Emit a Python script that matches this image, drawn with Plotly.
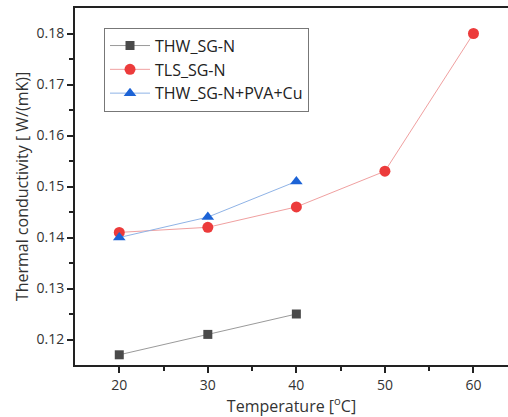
import plotly.graph_objects as go

temps_thw = [20, 30, 40]
thw_sgn = [0.117, 0.121, 0.125]
temps_tls = [20, 30, 40, 50, 60]
tls_sgn = [0.141, 0.142, 0.146, 0.153, 0.180]
temps_pva = [20, 30, 40]
thw_pva_cu = [0.140, 0.144, 0.151]

fig = go.Figure()
fig.add_trace(go.Scatter(x=temps_thw, y=thw_sgn, name="THW_SG-N", mode="lines+markers",
                         line=dict(color="#9a9a9a", width=1),
                         marker=dict(symbol="square", size=9, color="#4a4a4a")))
fig.add_trace(go.Scatter(x=temps_tls, y=tls_sgn, name="TLS_SG-N", mode="lines+markers",
                         line=dict(color="#f0a0a0", width=1),
                         marker=dict(symbol="circle", size=11, color="#ec3b3b")))
fig.add_trace(go.Scatter(x=temps_pva, y=thw_pva_cu, name="THW_SG-N+PVA+Cu", mode="lines+markers",
                         line=dict(color="#8fb3e6", width=1),
                         marker=dict(symbol="triangle-up", size=11, color="#1c63d6")))

font_family = "Open Sans, Segoe UI, sans-serif"
fig.update_layout(
    width=508, height=417,
    margin=dict(l=75, r=0, t=8, b=52),
    paper_bgcolor="white", plot_bgcolor="white",
    font=dict(family=font_family, color="#333", size=13),
    showlegend=True,
    legend=dict(x=0.067, y=0.945, xanchor="left", yanchor="top",
                bordercolor="#777", borderwidth=1, bgcolor="white",
                font=dict(size=16, color="#222"), tracegroupgap=0,
                itemwidth=40),
    xaxis=dict(range=[15, 63.9], tickvals=[20, 30, 40, 50, 60],
               ticks="outside", ticklen=6, tickwidth=1.5, tickcolor="#222",
               minor=dict(tickvals=[25, 35, 45, 55], ticks="outside", ticklen=4, tickwidth=1.5, tickcolor="#222"),
               showline=True, linecolor="#222", linewidth=2, mirror=True,
               showgrid=False, zeroline=False,
               tickfont=dict(size=14, color="#333"),
               title=dict(text="Temperature [<sup>o</sup>C]", font=dict(size=16, color="#333"), standoff=10)),
    yaxis=dict(range=[0.115, 0.185], tickvals=[0.12, 0.13, 0.14, 0.15, 0.16, 0.17, 0.18],
               tickformat=".2f",
               ticks="outside", ticklen=6, tickwidth=1.5, tickcolor="#222",
               minor=dict(tickvals=[0.125, 0.135, 0.145, 0.155, 0.165, 0.175], ticks="outside", ticklen=4, tickwidth=1.5, tickcolor="#222"),
               showline=True, linecolor="#222", linewidth=2, mirror=False,
               showgrid=False, zeroline=False,
               tickfont=dict(size=14, color="#333"),
               title=dict(text="Thermal conductivity [ W/(mK)]", font=dict(size=16, color="#333"), standoff=4)),
)

fig.write_html("out.html")
